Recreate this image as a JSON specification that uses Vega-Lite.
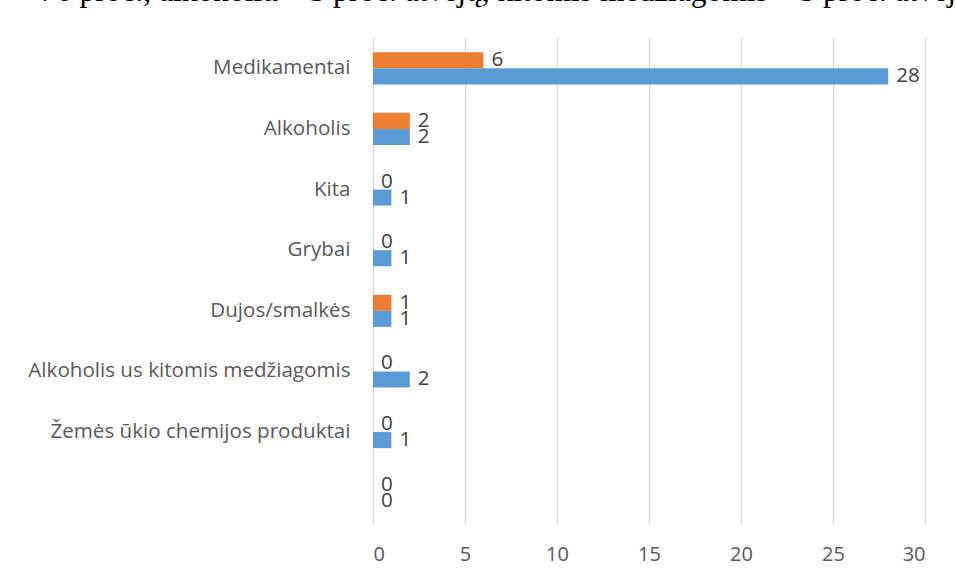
{
  "$schema": "https://vega.github.io/schema/vega-lite/v6.json",
  "autosize": "none",
  "width": 552,
  "height": 485,
  "padding": {"left": 373, "top": 38, "right": 31, "bottom": 56},
  "background": "white",
  "title": {
    "text": "76 proc., alkoholiu – 3 proc. atvejų, kitomis medžiagomis – 3 proc. atvejų",
    "anchor": "start",
    "frame": "group",
    "dx": -333,
    "dy": 9,
    "offset": 8,
    "baseline": "bottom",
    "font": "Liberation Serif",
    "fontSize": 31.5,
    "fontWeight": "normal",
    "color": "#000000"
  },
  "data": {
    "values": [
      {"category": "Medikamentai", "series": "A", "value": 6},
      {"category": "Medikamentai", "series": "B", "value": 28},
      {"category": "Alkoholis", "series": "A", "value": 2},
      {"category": "Alkoholis", "series": "B", "value": 2},
      {"category": "Kita", "series": "A", "value": 0},
      {"category": "Kita", "series": "B", "value": 1},
      {"category": "Grybai", "series": "A", "value": 0},
      {"category": "Grybai", "series": "B", "value": 1},
      {"category": "Dujos/smalkės", "series": "A", "value": 1},
      {"category": "Dujos/smalkės", "series": "B", "value": 1},
      {"category": "Alkoholis us kitomis medžiagomis", "series": "A", "value": 0},
      {"category": "Alkoholis us kitomis medžiagomis", "series": "B", "value": 2},
      {"category": "Žemės ūkio chemijos produktai", "series": "A", "value": 0},
      {"category": "Žemės ūkio chemijos produktai", "series": "B", "value": 1},
      {"category": " ", "series": "A", "value": 0},
      {"category": " ", "series": "B", "value": 0}
    ]
  },
  "encoding": {
    "y": {
      "field": "category",
      "type": "nominal",
      "sort": null,
      "scale": {"paddingInner": 0.47, "paddingOuter": 0.235},
      "axis": {
        "title": null,
        "domain": false,
        "ticks": false,
        "grid": false,
        "labelPadding": 23,
        "labelFont": "Open Sans",
        "labelFontSize": 20.6,
        "labelColor": "#595959",
        "labelLimit": 400
      }
    },
    "yOffset": {"field": "series", "type": "nominal", "sort": ["A", "B"]},
    "x": {
      "field": "value",
      "type": "quantitative",
      "scale": {"domain": [0, 30], "nice": false},
      "axis": {
        "title": null,
        "values": [0, 5, 10, 15, 20, 25, 30],
        "domain": false,
        "ticks": false,
        "grid": true,
        "gridColor": "#d9d9d9",
        "gridWidth": 1.5,
        "labelPadding": 21,
        "labelFont": "Open Sans",
        "labelFontSize": 20,
        "labelColor": "#595959"
      }
    }
  },
  "layer": [
    {
      "mark": {"type": "bar"},
      "encoding": {
        "color": {
          "field": "series",
          "type": "nominal",
          "scale": {"domain": ["A", "B"], "range": ["#ED7D31", "#5B9BD5"]},
          "legend": null
        }
      }
    },
    {
      "mark": {
        "type": "text",
        "align": "left",
        "baseline": "middle",
        "dx": 8,
        "font": "Open Sans",
        "fontSize": 20.6,
        "color": "#404040"
      },
      "encoding": {
        "text": {"field": "value", "type": "quantitative"}
      }
    }
  ],
  "config": {
    "view": {"stroke": null}
  }
}
